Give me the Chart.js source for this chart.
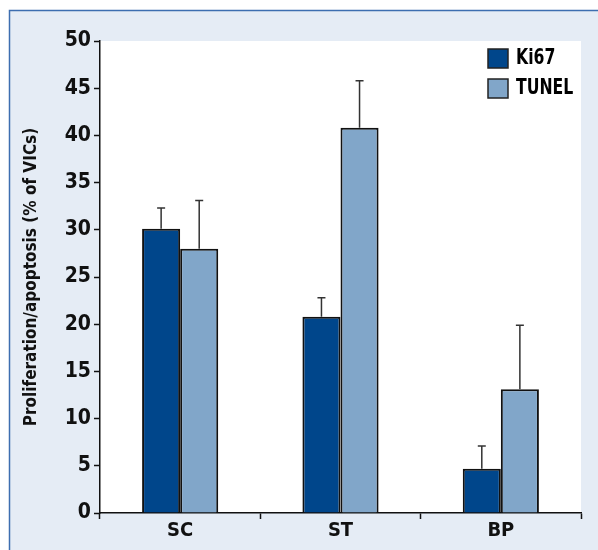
<!DOCTYPE html>
<html lang="en">
<head>
    <meta charset="UTF-8">
    <title>Proliferation / apoptosis</title>
    <style>
        body {
            margin: 0;
            background-color: white;
        }
        #chart {
            display: block;
        }
    </style>
    <script src="https://cdn.jsdelivr.net/npm/chart.js"></script>
</head>
<body>
    <canvas id="chart" width="598" height="550"></canvas>

    <script>
        const categories = ['SC', 'ST', 'BP'];
        const seriesNames = ['Ki67', 'TUNEL'];
        const ki67 = [30.1, 20.8, 4.7];
        const ki67Err = [2.2, 2.0, 2.4];
        const tunel = [28.0, 40.8, 13.1];
        const tunelErr = [5.1, 5.0, 6.8];
        const yTicks = [0, 5, 10, 15, 20, 25, 30, 35, 40, 45, 50];

        const fontFamily = "'Liberation Sans Narrow', 'DejaVu Sans Condensed', Arial, sans-serif";
        const errors = [ki67Err, tunelErr];

        // light blue panel behind the chart, white plot area
        const panelPlugin = {
            id: 'panel',
            beforeDraw(chart) {
                const ctx = chart.ctx;
                const area = chart.chartArea;
                ctx.save();
                ctx.fillStyle = 'white';
                ctx.fillRect(0, 0, chart.width, chart.height);
                ctx.fillStyle = '#e5ecf5';
                ctx.fillRect(9, 10, chart.width - 9, chart.height - 10);
                ctx.strokeStyle = '#3d6eb0';
                ctx.lineWidth = 1.5;
                ctx.beginPath();
                ctx.moveTo(9.5, chart.height);
                ctx.lineTo(9.5, 10.5);
                ctx.lineTo(chart.width, 10.5);
                ctx.stroke();
                ctx.fillStyle = 'white';
                ctx.fillRect(area.left, area.top, area.right - area.left, area.bottom - area.top);
                ctx.restore();
            }
        };

        // upward error bars with a small cap
        const errorBarPlugin = {
            id: 'errorBars',
            afterDatasetsDraw(chart) {
                const ctx = chart.ctx;
                const yScale = chart.scales.y;
                ctx.save();
                ctx.strokeStyle = '#333';
                ctx.lineWidth = 1.5;
                chart.data.datasets.forEach((ds, di) => {
                    const meta = chart.getDatasetMeta(di);
                    meta.data.forEach((bar, i) => {
                        const top = yScale.getPixelForValue(ds.data[i] + errors[di][i]);
                        ctx.beginPath();
                        ctx.moveTo(bar.x, bar.y);
                        ctx.lineTo(bar.x, top);
                        ctx.moveTo(bar.x - 4, top);
                        ctx.lineTo(bar.x + 4, top);
                        ctx.stroke();
                    });
                });
                ctx.restore();
            }
        };

        // legend in the top right corner of the plot
        const legendPlugin = {
            id: 'cornerLegend',
            afterDraw(chart) {
                const ctx = chart.ctx;
                ctx.save();
                chart.data.datasets.forEach((ds, i) => {
                    const y = 49 + i * 30;
                    ctx.fillStyle = ds.backgroundColor;
                    ctx.fillRect(488, y, 20, 19);
                    ctx.strokeStyle = '#222';
                    ctx.lineWidth = 1.5;
                    ctx.strokeRect(488, y, 20, 19);
                    // squeeze text a bit to look like a condensed face
                    ctx.save();
                    ctx.translate(516, y + 10);
                    ctx.scale(0.83, 1);
                    ctx.font = 'bold 21px ' + fontFamily;
                    ctx.textBaseline = 'middle';
                    ctx.fillStyle = 'black';
                    ctx.fillText(ds.label, 0, 0);
                    ctx.restore();
                });
                ctx.restore();
            }
        };

        new Chart(document.getElementById('chart'), {
            type: 'bar',
            data: {
                labels: categories,
                datasets: [
                    {
                        label: seriesNames[0],
                        data: ki67,
                        backgroundColor: '#00468b',
                        borderColor: '#111',
                        borderWidth: 2
                    },
                    {
                        label: seriesNames[1],
                        data: tunel,
                        backgroundColor: '#81a6c9',
                        borderColor: '#111',
                        borderWidth: 2
                    }
                ]
            },
            options: {
                responsive: false,
                animation: false,
                categoryPercentage: 0.475,
                barPercentage: 1,
                layout: {
                    padding: { top: 41, right: 17, bottom: 0, left: 0 }
                },
                plugins: {
                    legend: { display: false },
                    tooltip: { enabled: false }
                },
                scales: {
                    x: {
                        afterFit(scale) { scale.height = 37; },
                        grid: {
                            drawOnChartArea: false,
                            tickLength: 6,
                            tickColor: '#111',
                            tickWidth: 1.5
                        },
                        border: { color: '#111', width: 1.5 },
                        ticks: {
                            color: '#111',
                            padding: 0,
                            font: { family: fontFamily, size: 20, weight: 'bold' }
                        }
                    },
                    y: {
                        min: 0,
                        max: 50,
                        afterFit(scale) { scale.width = 100; },
                        afterBuildTicks(scale) {
                            scale.ticks = yTicks.map(v => ({ value: v }));
                        },
                        grid: {
                            drawOnChartArea: false,
                            tickLength: 6,
                            tickColor: '#111',
                            tickWidth: 1.5
                        },
                        border: { color: '#111', width: 1.5 },
                        ticks: {
                            color: '#111',
                            padding: 3,
                            font: { family: fontFamily, size: 21, weight: 'bold' }
                        },
                        title: {
                            display: true,
                            text: 'Proliferation/apoptosis (% of VICs)',
                            color: '#111',
                            padding: { top: 21, bottom: 0 },
                            font: { family: fontFamily, size: 17, weight: 'bold' }
                        }
                    }
                }
            },
            plugins: [panelPlugin, errorBarPlugin, legendPlugin]
        });
    </script>
</body>
</html>
